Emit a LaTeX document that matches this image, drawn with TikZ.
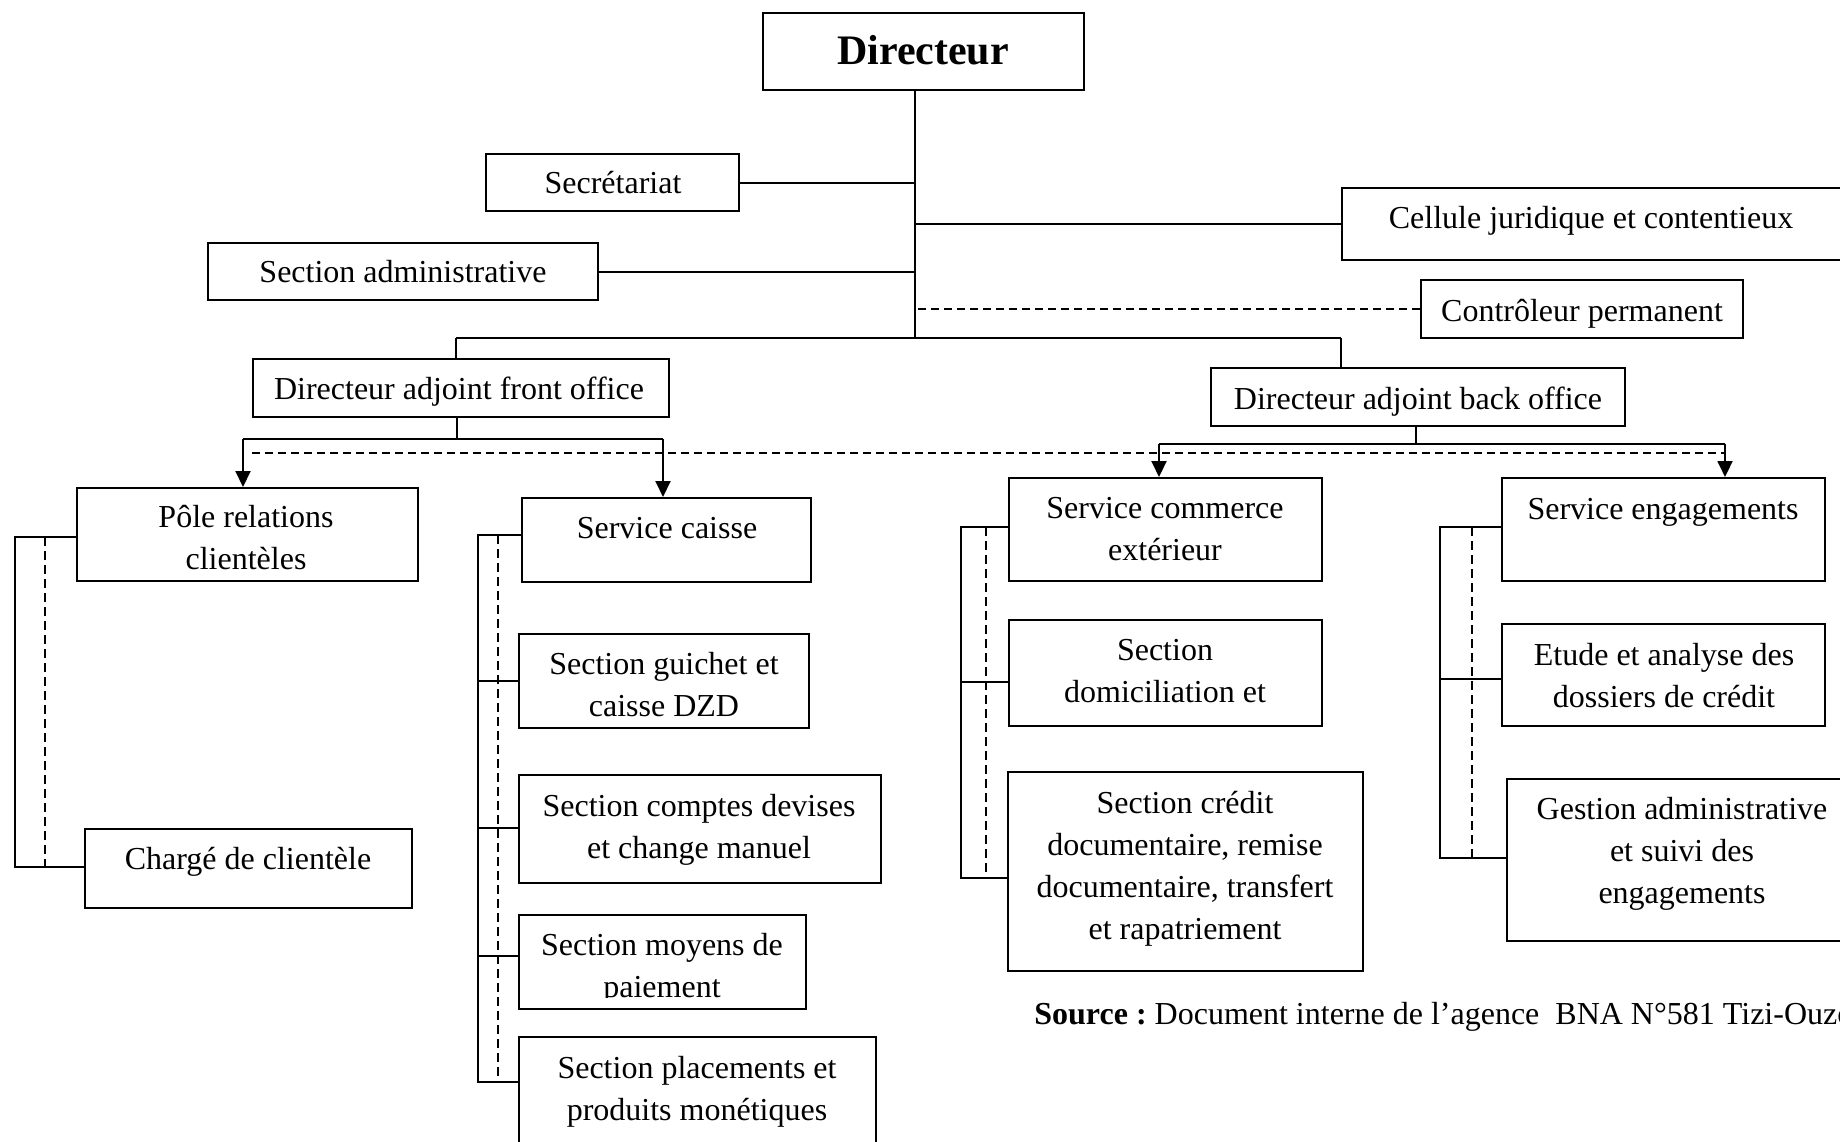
\documentclass[tikz,border=0pt]{standalone}
\usepackage{fontspec}
\setmainfont{Liberation Serif}
\usetikzlibrary{arrows.meta,fit}
\begin{document}
\begin{tikzpicture}[x=0.5pt,y=-0.5pt,
  box/.style={draw,line width=1pt,inner sep=0pt},
  txt/.style={font=\fontsize{16}{21}\selectfont,align=center,inner sep=0pt,yshift=-1.5pt},
  thinline/.style={line width=0.6pt},
  conn/.style={line width=1pt},
  dsh/.style={line width=1pt,dash pattern=on 4pt off 2.5pt},
  vdsh/.style={line width=0.8pt,dash pattern=on 4.5pt off 2.5pt},
  arr/.style={line width=1pt,-{Triangle[length=8pt,width=7.5pt]}}]
\useasboundingbox (0,0) rectangle (1840,1141);
\clip (0,0) rectangle (1840,1141);

% ---- boxes ----
\node[box,fit={(763,13)(1084,90)}] (dir) {};
\node[box,fit={(486,154)(739,211)}] (sec) {};
\node[box,fit={(208,243)(598,300)}] (adm) {};
\node[box,fit={(1342,188)(1860,260)}] (cel) {};
\node[box,fit={(1421,280)(1743,338)}] (ctl) {};
\node[box,fit={(253,359)(669,417)}] (dafo) {};
\node[box,fit={(1211,368)(1625,426)}] (dabo) {};
\node[box,fit={(77,488)(418,581)}] (pole) {};
\node[box,fit={(85,829)(412,908)}] (charge) {};
\node[box,fit={(522,498)(811,582)}] (caisse) {};
\node[box,fit={(519,634)(809,728)}] (guichet) {};
\node[box,fit={(519,775)(881,883)}] (comptes) {};
\node[box,fit={(519,915)(806,1009)}] (moyens) {};
\node[box,fit={(519,1037)(876,1170)}] (plac) {};
\node[box,fit={(1009,478)(1322,581)}] (comm) {};
\node[box,fit={(1009,620)(1322,726)}] (domic) {};
\node[box,fit={(1008,772)(1363,971)}] (credit) {};
\node[box,fit={(1502,478)(1825,581)}] (eng) {};
\node[box,fit={(1502,624)(1825,726)}] (etude) {};
\node[box,fit={(1507,779)(1870,941)}] (gestion) {};

% ---- texts ----
\node[inner sep=0pt,yshift=-2pt,font=\bfseries\fontsize{21}{25}\selectfont] (dir-t) at (923,50) {\strut Directeur};
\node[txt] (sec-t) at (613,182) {\strut Secrétariat\strut};
\node[txt] (adm-t) at (403,271) {\strut Section administrative\strut};
\node[txt] (cel-t) at (1591,217) {\strut Cellule juridique et contentieux\strut};
\node[txt] (ctl-t) at (1582,310) {\strut Contrôleur permanent\strut};
\node[txt] (dafo-t) at (459,388) {\strut Directeur adjoint front office\strut};
\node[txt] (dabo-t) at (1418,398) {\strut Directeur adjoint back office\strut};
\node[txt] (pole-t) at (246,537) {\strut Pôle relations\\clientèles\strut};
\node[txt] (charge-t) at (248,858) {\strut Chargé de clientèle\strut};
\node[txt] (caisse-t) at (667,527) {\strut Service caisse\strut};
\node[txt] (guichet-t) at (664,684) {\strut Section guichet et\\caisse DZD\strut};
\node[txt] (comptes-t) at (699,826) {\strut Section comptes devises\\et change manuel\strut};
\begin{scope}
\clip (moyens.north west) rectangle (806,997);
\node[txt] (moyens-t) at (662,965) {\strut Section moyens de\\paiement\strut};
\end{scope}
\node[txt] (plac-t) at (697,1088) {\strut Section placements et\\produits monétiques\strut};
\node[txt] (comm-t) at (1165,528) {\strut Service commerce\\extérieur\strut};
\node[txt] (domic-t) at (1165,670) {\strut Section\\domiciliation et\strut};
\node[txt] (credit-t) at (1185,865) {\strut Section crédit\\documentaire, remise\\documentaire, transfert\\et rapatriement\strut};
\node[txt] (eng-t) at (1663,508) {\strut Service engagements\strut};
\node[txt] (etude-t) at (1664,675) {\strut Etude et analyse des\\dossiers de crédit\strut};
\node[txt] (gestion-t) at (1682,850) {\strut Gestion administrative\\et suivi des\\engagements\strut};
\node[txt,anchor=west] (src) at (1034,1013) {\strut\textbf{Source :}\ Document interne de l’agence\ \ BNA N°581 Tizi-Ouzou\strut};

% ---- top connectors ----
\coordinate (j) at (915,338);
\draw[thinline] (j |- dir.south) -- (j);
\draw[conn] (sec.east) -- (sec.east -| j);
\draw[conn] (adm.east) -- (adm.east -| j);
\draw[conn] (cel.west) -- (cel.west -| j);
\draw[dsh] (ctl.west) -- (ctl.west -| j);
\coordinate (bl) at (456,338);
\coordinate (br) at (1341,338);
\draw[conn] (bl) -- (br);
\draw[thinline] (bl) -- (bl |- dafo.north);
\draw[thinline] (br) -- (br |- dabo.north);

% ---- front office ----
\coordinate (fs) at (457,439);
\coordinate (fl) at (243,439);
\coordinate (fr) at (663,439);
\draw[thinline] (fs |- dafo.south) -- (fs);
\draw[conn] (fl) -- (fr);
\draw[arr] (fl) -- (fl |- pole.north);
\draw[arr] (fr) -- (fr |- caisse.north);

% ---- back office ----
\coordinate (bs) at (1416,444);
\coordinate (bkl) at (1159,444);
\coordinate (bkr) at (1725,444);
\draw[thinline] (bs |- dabo.south) -- (bs);
\draw[conn] (bkl) -- (bkr);
\draw[arr] (bkl) -- (bkl |- comm.north);
\draw[arr] (bkr) -- (bkr |- eng.north);

% ---- long dashed line ----
\coordinate (d1) at (252,453);
\coordinate (d2) at (1725,453);
\draw[dsh] (d1) -- (d2);

% ---- bracket: pole ----
\coordinate (p1) at (15,537);
\coordinate (p2) at (15,867);
\draw[conn] (p1 -| pole.west) -- (p1) -- (p2) -- (p2 -| charge.west);
\draw[vdsh] (45,537) coordinate (pd1) -- (45,867) coordinate (pd2);

% ---- bracket: caisse ----
\coordinate (c1) at (478,535);
\coordinate (c2) at (478,681);
\coordinate (c3) at (478,828);
\coordinate (c4) at (478,956);
\coordinate (c5) at (478,1082);
\draw[conn] (c1 -| caisse.west) -- (c1) -- (c5) -- (c5 -| plac.west);
\draw[conn] (c2) -- (c2 -| guichet.west);
\draw[conn] (c3) -- (c3 -| comptes.west);
\draw[conn] (c4) -- (c4 -| moyens.west);
\draw[vdsh] (498,535) coordinate (cd1) -- (498,1082) coordinate (cd2);

% ---- bracket: commerce ----
\coordinate (m1) at (961,527);
\coordinate (m2) at (961,682);
\coordinate (m3) at (961,878);
\draw[conn] (m1 -| comm.west) -- (m1) -- (m3) -- (m3 -| credit.west);
\draw[conn] (m2) -- (m2 -| domic.west);
\draw[vdsh] (986,527) coordinate (md1) -- (986,878) coordinate (md2);

% ---- bracket: engagements ----
\coordinate (e1) at (1440,527);
\coordinate (e2) at (1440,679);
\coordinate (e3) at (1440,858);
\draw[conn] (e1 -| eng.west) -- (e1) -- (e3) -- (e3 -| gestion.west);
\draw[conn] (e2) -- (e2 -| etude.west);
\draw[vdsh] (1472,527) coordinate (ed1) -- (1472,858) coordinate (ed2);
\end{tikzpicture}
\end{document}
